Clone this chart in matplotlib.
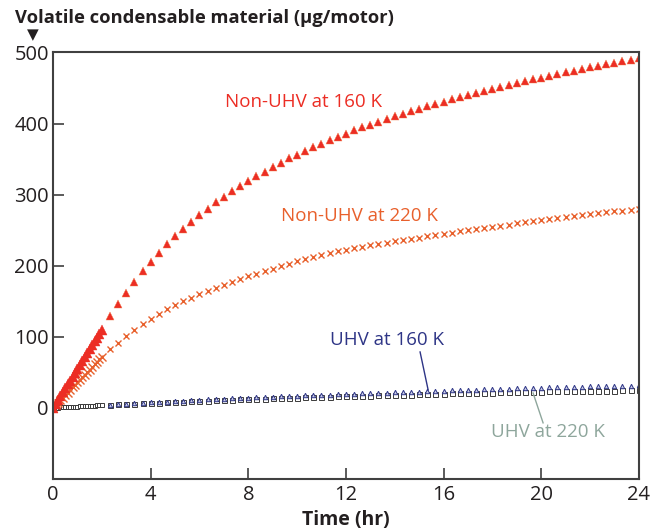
import numpy as np
import matplotlib
matplotlib.use('Agg')
import matplotlib.pyplot as plt

plt.rcParams['font.family'] = ['Open Sans', 'DejaVu Sans']

# time grid: every 6 min for the first 2 hr, then every 20 min
t_dense = np.arange(0, 21) / 10.0
t_sparse = np.arange(140, 1441, 20) / 60.0

# Non-UHV at 160 K (ug/motor)
nonuhv160_dense = [0, 5.5, 11, 16.5, 22, 27.5, 33, 38.5, 44, 49.5, 55, 60.5, 66, 71.5,
                   77, 82.5, 88, 93.5, 99, 104.5, 110]
nonuhv160 = [129, 146, 162, 177.5, 192, 205.5, 218.5, 230.5, 241.5, 252, 262, 271.5,
             280.5, 289, 297, 304.5, 312, 319, 326, 332.5, 339, 345, 351, 356,
             361, 366.5, 371.5, 376.5, 381.5, 386, 390.5, 394.5, 398.5, 402.5, 406.5, 410.5,
             414, 417.5, 421, 424.5, 428, 431, 434, 437, 440, 443, 445.5, 448.5,
             451, 454, 456.5, 459.5, 462, 464.5, 467, 469.5, 472, 474, 476.5, 479,
             481, 483.5, 485.5, 487.5, 489.5, 492]

# Non-UHV at 220 K
nonuhv220_dense = [0, 3.6, 7.2, 10.8, 14.4, 18, 21.6, 25.2, 28.8, 32.4, 36, 39.6, 43.2,
                   46.8, 50.4, 54, 57.6, 61.2, 64.8, 68.4, 72]
nonuhv220 = [83, 92, 101.5, 110, 118, 125.5, 132.5, 138.5, 144.5, 150, 155, 160,
             164.5, 169, 173, 177, 181, 185, 189, 192.5, 196, 199.5, 203, 206,
             209.5, 212.5, 215, 218, 220.5, 222.5, 224.5, 226.5, 228.5, 230.5, 232.5, 234.5,
             236, 238, 239.5, 241.2, 243, 245, 246.7, 248.2, 249.7, 251.3, 253, 254.5,
             256.3, 258, 259.5, 261, 262.5, 264, 265.5, 267, 268.5, 269.8, 271, 272.5,
             273.8, 275, 276.3, 277.5, 279, 280.5]

# UHV at 220 K
uhv220_dense = [0, 0.2, 0.4, 0.6, 0.8, 1.0, 1.2, 1.4, 1.6, 1.8, 2.0, 2.2, 2.4, 2.6,
                2.8, 3.0, 3.2, 3.4, 3.6, 3.8, 4.0]
uhv220 = [4.5, 5.0, 5.5, 6.0, 6.5, 7.0, 7.5, 8.0, 8.5, 9.0, 9.5, 10.0,
          10.4, 10.9, 11.3, 11.7, 12.1, 12.5, 12.8, 13.2, 13.5, 13.8, 14.2, 14.5,
          14.8, 15.2, 15.5, 15.8, 16.2, 16.5, 16.8, 17.0, 17.3, 17.5, 17.8, 18.0,
          18.3, 18.7, 19.0, 19.3, 19.7, 20.0, 20.3, 20.5, 20.8, 21.0, 21.3, 21.5,
          21.7, 22.0, 22.2, 22.5, 22.7, 23.0, 23.2, 23.3, 23.5, 23.7, 23.8, 24.0,
          24.2, 24.3, 24.5, 24.7, 24.8, 25.0]

# UHV at 160 K
uhv160 = [4.8, 5.4, 6.0, 6.6, 7.2, 7.8, 8.4, 9.0, 9.6, 10.2, 10.8, 11.4,
          11.9, 12.5, 13.0, 13.5, 14.0, 14.5, 14.9, 15.4, 15.8, 16.2, 16.7, 17.1,
          17.5, 18.0, 18.4, 18.8, 19.3, 19.7, 20.1, 20.4, 20.8, 21.1, 21.5, 21.8,
          22.2, 22.7, 23.1, 23.5, 24.0, 24.4, 24.8, 25.1, 25.5, 25.8, 26.2, 26.5,
          26.8, 27.2, 27.5, 27.9, 28.2, 28.6, 28.9, 29.1, 29.4, 29.7, 29.9, 30.2,
          30.5, 30.7, 31.0, 31.3, 31.5, 31.8]

red = '#ec2d24'
orange = '#e8602c'
navy = '#2e3586'
sage = '#8ea69c'
ink = '#231f20'

fig = plt.figure(figsize=(6.65, 5.3), dpi=100)
ax = fig.add_axes([0.0798, 0.0962, 0.8807, 0.8048])

ax.plot(t_dense, uhv220_dense, 's', ms=3.2, mfc='white', mec='#3a3a3a', mew=0.7)
ax.plot(t_sparse, uhv220, 's', ms=3.6, mfc='white', mec='#3a3a3a', mew=0.7)
ax.plot(t_sparse, uhv160, '^', ms=3.2, mfc='#c8cce6', mec=navy, mew=0.7)
ax.plot(t_dense, nonuhv220_dense, 'x', ms=5.5, color=orange, mew=1.0)
ax.plot(t_sparse, nonuhv220, 'x', ms=5, color=orange, mew=1.0)
ax.plot(t_dense, nonuhv160_dense, '^', ms=6.5, color=red, mec=red, mew=0.3)
ax.plot(t_sparse, nonuhv160, '^', ms=6, color=red, mec='#f07a4a', mew=0.3)

ax.set_xlim(0, 24)
ax.set_ylim(-100, 500)
ax.set_xticks(range(0, 25, 4))
ax.set_yticks(range(0, 501, 100))
ax.tick_params(direction='in', length=8, width=1.2, color='#404040',
               labelsize=14.5, labelcolor=ink)
ax.tick_params(axis='x', pad=4)
ax.tick_params(axis='y', pad=3)
for s in ax.spines.values():
    s.set_color('#404040')
    s.set_linewidth(1.5)

ax.set_xlabel('Time (hr)', fontsize=14, fontweight='bold', color=ink, labelpad=4)

fig.text(0.022, 0.966, 'Volatile condensable material (\u03bcg/motor)', fontsize=13.2,
         fontweight='bold', color=ink, ha='left', va='center')
fig.text(0.050, 0.934, '\u25bc', fontsize=11, color=ink, ha='center', va='center',
         family=['DejaVu Sans'])

ax.text(7.05, 431, 'Non-UHV at 160 K', color=red, fontsize=13.5, ha='left', va='center')
ax.text(9.34, 270, 'Non-UHV at 220 K', color=orange, fontsize=13.5, ha='left', va='center')
ax.text(11.35, 95.5, 'UHV at 160 K', color=navy, fontsize=13.5, ha='left', va='center')
ax.text(17.95, -33.7, 'UHV at 220 K', color=sage, fontsize=13.5, ha='left', va='center')
ax.plot([15.04, 15.37], [78.7, 25.3], color=navy, lw=1.0)
ax.plot([19.67, 20.08], [21, -21], color=sage, lw=1.0)

fig.savefig('out.png', dpi=100)
